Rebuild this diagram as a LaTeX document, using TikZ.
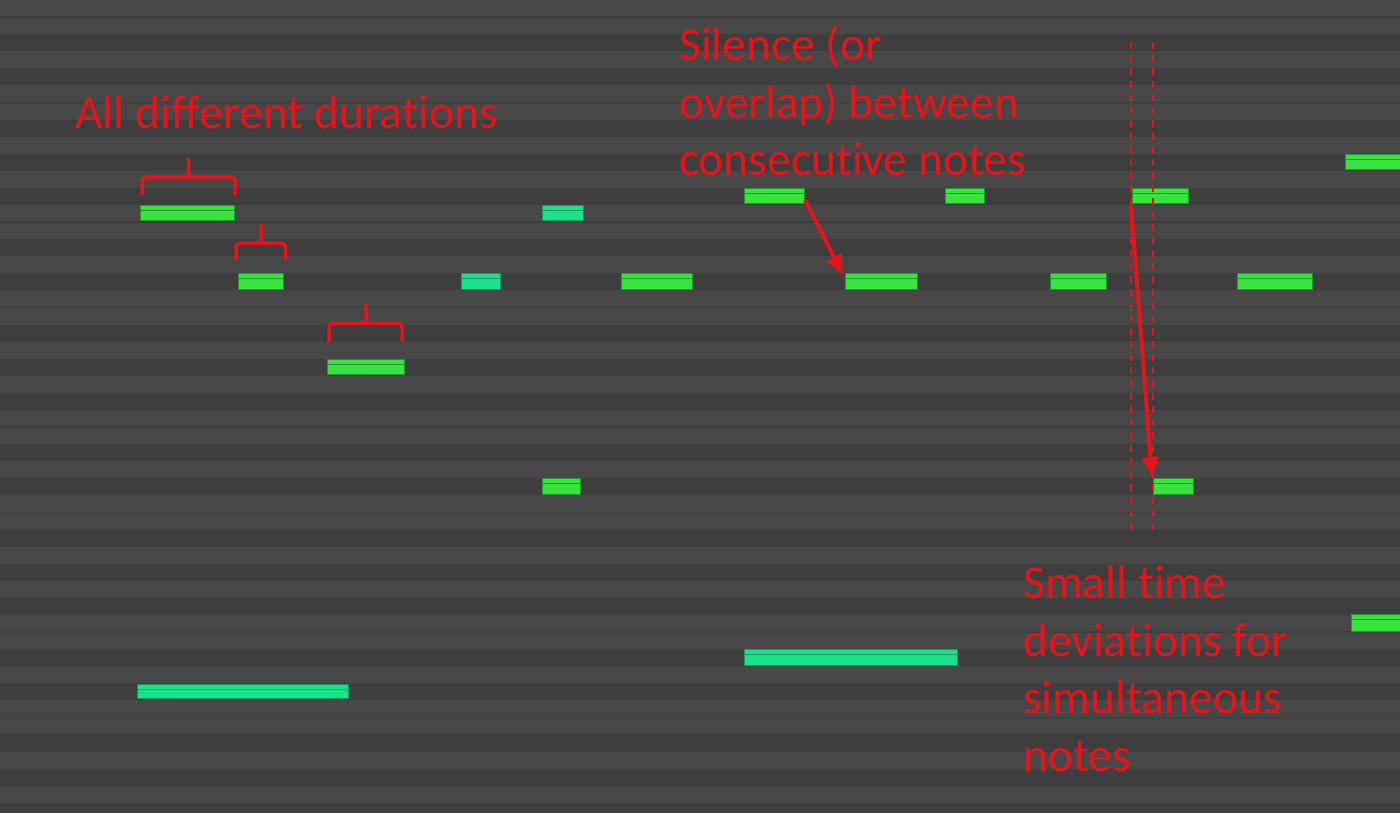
\documentclass[tikz,border=0pt]{standalone}
\usepackage{fontspec}
\setmainfont{Carlito}[Ligatures={NoCommon,NoRequired,NoContextual}]
\usetikzlibrary{arrows.meta}
\newcommand{\nolig}{\kern0pt }
\definecolor{bglight}{HTML}{474747}
\definecolor{bgdark}{HTML}{3E3E3E}
\definecolor{bgline}{HTML}{3D3D3D}
\definecolor{notegreen}{HTML}{38E23F}
\definecolor{noteteal}{HTML}{18E38A}
\definecolor{edgegreen}{HTML}{1F9A2C}
\definecolor{edgeteal}{HTML}{12985E}
\definecolor{annot}{HTML}{E5141B}
\begin{document}
\begin{tikzpicture}[x=1pt,y=-1pt,
  notebox/.style 2 args={rectangle, inner sep=0pt, outer sep=0pt, anchor=north west,
    fill=#1, draw=#2, line width=1pt,
    path picture={\draw[#2, line width=1.2pt]
      ([yshift=-5.5pt]path picture bounding box.north west) --
      ([yshift=-5.5pt]path picture bounding box.north east);}},
  note/.style={notebox={notegreen}{edgegreen}},
  tnote/.style={notebox={noteteal}{edgeteal}},
  txt/.style={text=annot, font=\fontsize{47.5}{57}\selectfont, inner sep=0pt, anchor=base west},
  brace/.style={annot, line width=3.5pt, rounded corners=4pt},
  bracetip/.style={annot, line width=3.5pt},
  arr/.style={annot, line width=4pt, -{Triangle[length=20pt,width=16pt]}},
  vguide/.style={annot, line width=1.5pt, dash pattern=on 7pt off 6pt}
]
\useasboundingbox (0,0) rectangle (1400,812);
\clip (0,0) rectangle (1400,812);
% background piano-roll rows
\fill[bglight] (0,0) rectangle (1400,812);
\foreach \r in {2,4,7,9,11,14,16,19,21,23,26,28,31,33,35,38,40,43,45,47}
  \fill[bgdark] (0,{\r*17.08}) rectangle (1400,{(\r+1)*17.08});
\foreach \r in {1,6,13,18,25,30,37,42}
  \draw[bgline, line width=1.5pt] (0,{\r*17.08}) -- (1400,{\r*17.08});

% notes
\node[note, minimum width=94pt, minimum height=15pt] (n1) at (140,205) {};
\node[note, minimum width=45pt, minimum height=16pt] (n2) at (238,273) {};
\node[note, minimum width=77pt, minimum height=15pt] (n3) at (327,359) {};
\node[tnote, minimum width=39pt, minimum height=16pt] (n4) at (461,273) {};
\node[tnote, minimum width=41pt, minimum height=15pt] (n5) at (542,205) {};
\node[note, minimum width=38pt, minimum height=16pt] (n6) at (542,478) {};
\node[note, minimum width=71pt, minimum height=16pt] (n7) at (621,273) {};
\node[note, minimum width=60pt, minimum height=15pt] (n8) at (744,188) {};
\node[note, minimum width=72pt, minimum height=16pt] (n9) at (845,273) {};
\node[note, minimum width=39pt, minimum height=15pt] (n10) at (945,188) {};
\node[note, minimum width=56pt, minimum height=16pt] (n11) at (1050,273) {};
\node[note, minimum width=56pt, minimum height=15pt] (n12) at (1132,188) {};
\node[note, minimum width=40pt, minimum height=16pt] (n13) at (1153,478) {};
\node[note, minimum width=75pt, minimum height=16pt] (n14) at (1237,273) {};
\node[note, minimum width=60pt, minimum height=15pt] (n15) at (1345,154) {};
\node[note, minimum width=55pt, minimum height=17pt] (n16) at (1351,614) {};
\node[tnote, minimum width=211pt, minimum height=14pt] (n17) at (137,684) {};
\node[tnote, minimum width=213pt, minimum height=16pt] (n18) at (744,649) {};

% braces
\draw[brace] (142,195) -- (142,177) -- (235,177) -- (235,195);
\draw[bracetip] (183.5,177) .. controls (188.5,177) .. (188.5,170) -- (188.5,158);
\draw[bracetip] (193.5,177) .. controls (188.5,177) .. (188.5,170);
\draw[brace] (236,260) -- (236,243) -- (285.5,243) -- (285.5,260);
\draw[bracetip] (256,243) .. controls (261,243) .. (261,236) -- (261,224);
\draw[bracetip] (266,243) .. controls (261,243) .. (261,236);
\draw[brace] (329,342) -- (329,323) -- (402,323) -- (402,342);
\draw[bracetip] (361,323) .. controls (366,323) .. (366,316) -- (366,304);
\draw[bracetip] (371,323) .. controls (366,323) .. (366,316);

% dashed guides
\coordinate (g1top) at (1131,42);
\coordinate (g1bot) at (1131,534);
\coordinate (g2top) at (1153,42);
\coordinate (g2bot) at (1153,534);
\draw[vguide] (g1top) -- (g1bot);
\draw[vguide] (g2top) -- (g2bot);

% arrows
\draw[arr] ([shift={(1,-3)}]n8.south east) -- ([shift={(-2,2)}]n9.north west);
\draw[arr] ([shift={(-1,2)}]n12.south west) -- ([shift={(-1,-1)}]n13.north west);

% texts
\node[txt] (t1) at (75,128) {All dif\nolig f\nolig erent dura\nolig t\nolig ions};
\node[txt] (t2a) at (679,60) {Silence (or};
\node[txt] (t2b) at (679,118) {overlap) between};
\node[txt] (t2c) at (679,175) {consecu\nolig t\nolig ive notes};
\node[txt] (t3a) at (1023,598) {Small t\nolig ime};
\node[txt] (t3b) at (1023,656) {devia\nolig t\nolig ions for};
\node[txt] (t3c) at (1023,713) {simultaneous};
\node[txt] (t3d) at (1023,771) {notes};
\end{tikzpicture}
\end{document}
